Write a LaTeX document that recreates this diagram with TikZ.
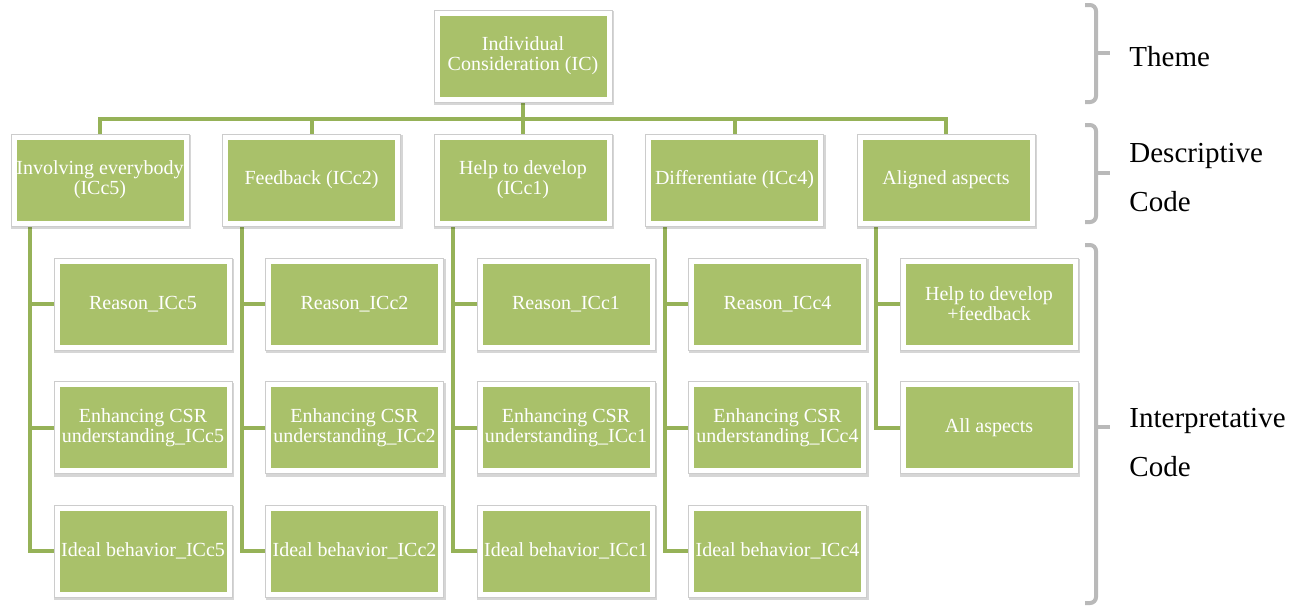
\documentclass[tikz,border=0pt]{standalone}
\usepackage{fontspec}
\setmainfont{Liberation Serif}
\usetikzlibrary{positioning,backgrounds}
\definecolor{boxgreen}{RGB}{169,193,106}
\definecolor{linkgreen}{RGB}{150,178,88}
\definecolor{bracegray}{RGB}{185,185,185}
\tikzset{
	code box/.style={
		fill=boxgreen, draw=white, line width=2.5pt, outer sep=0pt,
		preaction={draw=black, draw opacity=.16, line width=4pt,
			transform canvas={shift={(.7pt,-1.1pt)}}},
		preaction={draw=black!20, line width=3.5pt},
		minimum width=86pt, minimum height=43pt,
		inner xsep=1pt, inner ysep=2pt,
		text=white, align=center, font=\fontsize{10}{10}\selectfont},
	link/.style={draw=linkgreen, line width=2pt},
	brace/.style={draw=bracegray, line width=2pt, rounded corners=3pt},
	level label/.style={anchor=west, align=left, inner sep=0pt,
		font=\fontsize{14.5}{24.5}\selectfont}
}

\begin{document}
\begin{tikzpicture}[x=0.5pt, y=-0.5pt]
  \useasboundingbox (0,0) rectangle (1305,607);
  \node[code box] (ic) at (523,56) {Individual\\Consideration (IC)};
  \node[code box, below=19pt of ic] (c3) {Help to develop\\(ICc1)};
  \node[code box, left=19.75pt of c3] (c2) {Feedback (ICc2)};
  \node[code box, left=19.75pt of c2] (c1) {Involving everybody\\(ICc5)};
  \node[code box, right=19.75pt of c3] (c4) {Differentiate (ICc4)};
  \node[code box, right=19.75pt of c4] (c5) {Aligned aspects};
  % interpretative codes, three under each of the first four columns
  \foreach \c/\k in {1/5,2/2,3/1,4/4} {
    \node[code box, below=19pt of c\c, xshift=21.5pt] (c\c_1) {Reason\_ICc\k};
    \node[code box, below=18.75pt of c\c_1] (c\c_2) {Enhancing CSR\\understanding\_ICc\k};
    \node[code box, below=18.75pt of c\c_2] (c\c_3) {Ideal behavior\_ICc\k};
  }
  \node[code box, below=19pt of c5, xshift=21.5pt] (c5_1) {Help to develop\\+feedback};
  \node[code box, below=18.75pt of c5_1] (c5_2) {All aspects};
  \begin{scope}[on background layer]
    \foreach \c in {1,...,5}
      \draw[link] (ic.south) -- ++(0,19.5) -| (c\c.north);
    \foreach \c/\n in {1/3,2/3,3/3,4/3,5/2} {
      \coordinate (s\c) at ([xshift=8pt]c\c.south west);
      \draw[link] (s\c) |- (c\c_\n.west);
      \foreach \r in {1,...,\n}
        \draw[link] (s\c |- c\c_\r.west) -- (c\c_\r.west);
    }
  \end{scope}
  % levels on the right
  \node[level label] (theme) at (1129,57) {Theme};
  \node[level label] (desc) at (1129,178) {Descriptive\\Code};
  \node[level label] (interp) at (1129,443) {Interpretative\\Code};
  \draw[brace] (1085,5) -| (1096,102) -- (1085,102);
  \draw[brace] (1096,53) -- (1110,53);
  \draw[brace] (1085,125) -| (1096,222) -- (1085,222);
  \draw[brace] (1096,173) -- (1110,173);
  \draw[brace] (1085,245) -| (1096,603) -- (1085,603);
  \draw[brace] (1096,427) -- (1110,427);
\end{tikzpicture}
\end{document}
